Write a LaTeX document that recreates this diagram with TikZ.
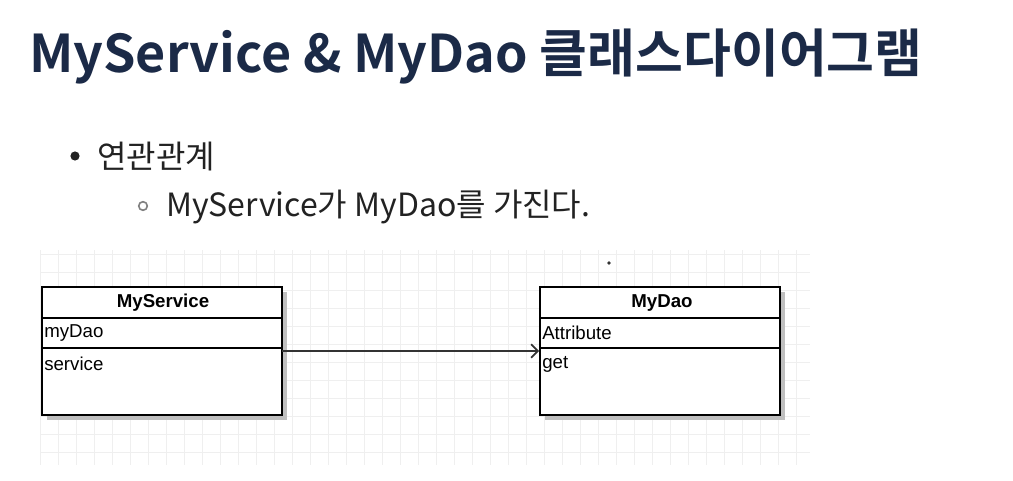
\documentclass[tikz,border=0pt]{standalone}
\usepackage{fontspec}
\setmainfont{Noto Sans CJK KR}
\newfontfamily\kbold{Noto Sans CJK KR Bold}
\newfontfamily\umlfont{Liberation Sans}
\usetikzlibrary{arrows.meta}
\definecolor{titlecol}{HTML}{1B2A47}
\definecolor{gridcol}{HTML}{EFEFEF}
\definecolor{bodytext}{HTML}{222222}
\tikzset{
  umltext/.style={font=\umlfont\fontsize{14}{15}\selectfont, inner sep=0pt, anchor=west},
  umlhead/.style={font=\umlfont\bfseries\fontsize{14}{15}\selectfont, inner sep=0pt},
  umlbox/.style={draw=black, line width=1.6pt, fill=white},
  umlsep/.style={draw=black, line width=1.4pt},
  gridline/.style={draw=gridcol, line width=0.5pt},
  bodyline/.style={anchor=west, inner sep=0pt, font=\fontsize{24}{26}\selectfont, text=bodytext},
  assoc/.style={draw=black!80, line width=1pt, -{Straight Barb[length=5pt,width=10pt,line width=1.3pt]}},
}
\begin{document}
\begin{tikzpicture}[x=0.75pt,y=-0.75pt]
\useasboundingbox (0,0) rectangle (1013,481);
\fill[white] (0,0) rectangle (1013,481);
% faint grid
\foreach \gx in {40,58,...,810} \draw[gridline] (\gx,250) -- (\gx,465);
\foreach \gy in {254,272,...,465} \draw[gridline] (40,\gy) -- (810,\gy);
% title
\node[anchor=west, inner sep=0pt, text=titlecol, font=\kbold\fontsize{39}{42}\selectfont] (title) at (29,57) {MyService \& MyDao 클래스다이어그램};
% bullets
\node[bodyline] (b1) at (97,157) {연관관계};
\fill[bodytext] (75,156) circle (4.6);
\node[bodyline] (b2) at (166,207) {MyService가 MyDao를 가진다.};
\draw[black!50, line width=1.2pt] (143,206) circle (4.3);
% small mark
\fill[black!80] (609,263) circle (1.8);
% MyService class
\fill[black!25] (47,292) rectangle (287,420);
\draw[umlbox] (42,287) rectangle (282,415);
\draw[umlsep] (42,318) -- (282,318);
\draw[umlsep] (42,348) -- (282,348);
\node[umlhead] (svc) at (163,303) {MyService};
\node[umltext] (svcattr) at (44,333) {myDao};
\node[umltext] (svcop) at (44,364) {service};
\coordinate (svcR) at (282,351);
% MyDao class
\fill[black!25] (545,292) rectangle (785,420);
\draw[umlbox] (540,287) rectangle (780,415);
\draw[umlsep] (540,318) -- (780,318);
\draw[umlsep] (540,348) -- (780,348);
\node[umlhead] (dao) at (662,303) {MyDao};
\node[umltext] (daoattr) at (542,333) {Attribute};
\node[umltext] (daoop) at (542,364) {get};
\coordinate (daoL) at (539,351);
\draw[assoc] (svcR) -- (daoL);
\end{tikzpicture}
\end{document}
